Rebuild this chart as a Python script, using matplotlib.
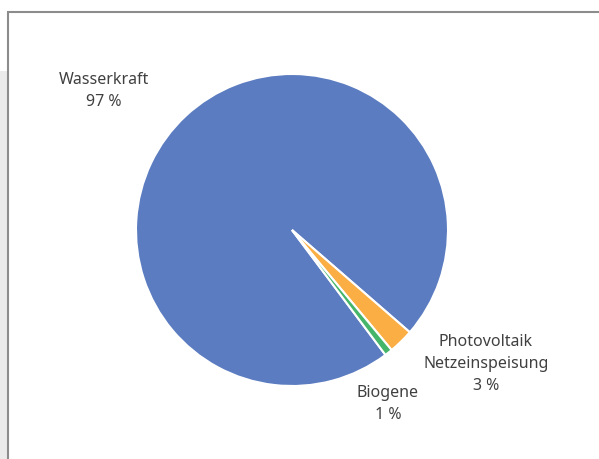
import matplotlib
matplotlib.use('Agg')
import matplotlib.pyplot as plt
from matplotlib.patches import Rectangle

plt.rcParams['font.family'] = ['Noto Sans', 'DejaVu Sans']

# data
sources = ['Wasserkraft', 'Photovoltaik\nNetzeinspeisung', 'Biogene']
shares = [96.6, 2.6, 0.8]
colors = ['#5b7cc0', '#faae43', '#45b56a']

W, H = 599, 460
fig = plt.figure(figsize=(W / 100, H / 100), dpi=100)
fig.patch.set_facecolor('white')

def px(x, y):
    return x / W, 1 - y / H

# grey strip at left and chart frame
fig.patches.append(Rectangle(px(0, 460), 7 / W, 388 / H, transform=fig.transFigure,
                             facecolor='#ebebeb', edgecolor='none', zorder=0))
fig.patches.append(Rectangle(px(8, 470), 600 / W, 457 / H, transform=fig.transFigure,
                             facecolor='white', edgecolor='#8c8c8c', lw=1.5, zorder=1))

# pie
cx, cy, r = 292, 231, 156
ax = fig.add_axes([(cx - r) / W, (H - cy - r) / H, 2 * r / W, 2 * r / H])
ax.set_zorder(5)
ax.pie(shares, colors=colors, startangle=90 - 143.2, counterclock=False,
       wedgeprops=dict(edgecolor='white', linewidth=1.5))
ax.set_xlim(-1, 1)
ax.set_ylim(-1, 1)
ax.set_aspect('equal')
ax.axis('off')

# data labels
label_pos = [(104, 91), (486, 364), (388, 404)]
for name, v, (lx, ly) in zip(sources, shares, label_pos):
    x, y = px(lx, ly)
    fig.text(x, y, f'{name}\n{round(v)} %', ha='center', va='center', fontsize=11.5,
             color='#404040', linespacing=1.5, zorder=6)

plt.savefig('out.png', dpi=100)
